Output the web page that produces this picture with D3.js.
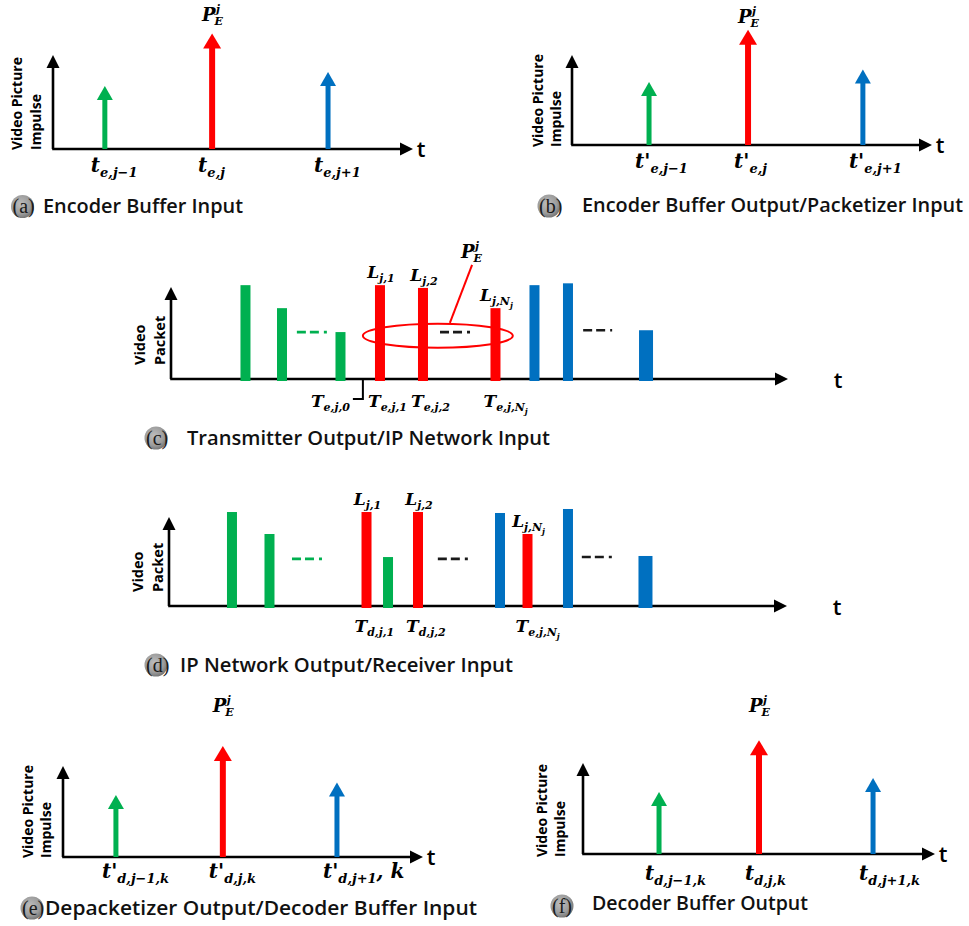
<!DOCTYPE html>
<html><head><meta charset="utf-8">
<script src="https://cdn.jsdelivr.net/npm/d3@7"></script>
<style>html,body{margin:0;padding:0;background:#fff;} svg{display:block}</style>
</head><body><div id="chart"></div>
<script>
// ================= DATA =================
const pictureKeys = ["j−1", "j", "j+1"];   // previous, current, next picture

// (a) Encoder Buffer Input  — impulse time (0..10 along t) and height (1 = axis top)
const aTimes   = [1.44, 4.42, 7.64];
const aHeights = [0.67, 1.23, 0.82];
const aTickLabels = [[["t",0],["e,j−1",1]], [["t",0],["e,j",1]], [["t",0],["e,j+1",1]]];

// (b) Encoder Buffer Output / Packetizer Input
const bTimes   = [2.14, 4.89, 8.08];
const bHeights = [0.70, 1.28, 0.84];
const bTickLabels = [[["t'",0],["e,j−1",1]], [["t'",0],["e,j",1]], [["t'",0],["e,j+1",1]]];

// (e) Depacketizer Output / Decoder Buffer Input
const eTimes   = [1.47, 4.44, 7.61];
const eHeights = [0.68, 1.22, 0.82];
const eTickLabels = [[["t'",0],["d,j−1,k",1]], [["t'",0],["d,j,k",1]], [["t'",0],["d,j+1",1],[", k",0]]];

// (f) Decoder Buffer Output
const fTimes   = [2.16, 5.00, 8.24];
const fHeights = [0.68, 1.25, 0.835];
const fTickLabels = [[["t",0],["d,j−1,k",1]], [["t",0],["d,j,k",1]], [["t",0],["d,j+1,k",1]]];

// (c) Transmitter Output / IP Network Input — packets (time 0..100, size 1 = axis top)
const cPacketTimes   = [12.07, 17.99, 27.47, 33.87, 40.84, 52.59, 58.91, 64.34, 76.99];
const cPacketSizes   = [1.02, 0.77, 0.51, 1.02, 0.99, 0.77, 1.02, 1.04, 0.53];
const cPacketPicture = ["j−1", "j−1", "j−1", "j", "j", "j", "j+1", "j+1", "j+1"];
const cGapTimes   = [[20.4, 25.8], [43.6, 48.5], [66.8, 71.5]];
const cGapLevels  = [0.51, 0.51, 0.53];
const cGapPicture = ["j−1", "j", "j+1"];
const cTopLabelIdx = [3, 4, 5];
const cTopLabels = [[["L",0],["j,1",1]], [["L",0],["j,2",1]], [["L",0],["j,N",1],["j",2]]];
const cBottomLabelIdx = [3, 4, 5];
const cBottomLabels = [[["T",0],["e,j,1",1]], [["T",0],["e,j,2",1]], [["T",0],["e,j,N",1],["j",2]]];
const cStartTime = 31.1;                       // T_{e,j,0}
const cStartLabel = [["T",0],["e,j,0",1]];
const cGroupSpan = [31.1, 55.4];               // ellipse around picture j packets
const cGroupLevels = [0.34, 0.60];
const cCallout = [[45.2, 0.61], [48.8, 1.24]];

// (d) IP Network Output / Receiver Input
const dPacketTimes   = [10.19, 16.26, 31.96, 35.44, 40.29, 53.56, 58.01, 64.56, 77.10];
const dPacketSizes   = [1.056, 0.809, 1.056, 0.55, 1.056, 1.045, 0.809, 1.09, 0.562];
const dPacketPicture = ["j−1", "j−1", "j", "j−1", "j", "j+1", "j", "j+1", "j+1"];
const dGapTimes   = [[19.9, 25.0], [43.5, 48.7], [66.8, 71.8]];
const dGapLevels  = [0.53, 0.53, 0.55];
const dGapPicture = ["j−1", "j", "j+1"];
const dTopLabelIdx = [2, 4, 6];
const dTopLabels = [[["L",0],["j,1",1]], [["L",0],["j,2",1]], [["L",0],["j,N",1],["j",2]]];
const dBottomLabelIdx = [2, 4, 6];
const dBottomLabels = [[["T",0],["d,j,1",1]], [["T",0],["d,j,2",1]], [["T",0],["e,j,N",1],["j",2]]];

const captionLetters = ["(a)", "(b)", "(c)", "(d)", "(e)", "(f)"];
const captionTexts = [
  "Encoder Buffer Input",
  "Encoder Buffer Output/Packetizer Input",
  "Transmitter Output/IP Network Input",
  "IP Network Output/Receiver Input",
  "Depacketizer Output/Decoder Buffer Input",
  "Decoder Buffer Output"
];
const impulseAxisTitle = ["Video Picture", "Impulse"];
const packetAxisTitle = ["Video", "Packet"];
const timeAxisTitle = "t";

// ================= RENDER =================
const W = 969, H = 926;
const svg = d3.select("#chart").append("svg")
  .attr("width", W).attr("height", H).attr("viewBox", `0 0 ${W} ${H}`);
const COLORS = {"j−1": "#00B050", "j": "#FF0000", "j+1": "#0070C0"};
const MATH_FONT = "'DejaVu Serif', serif";
const SANS = "'Open Sans', sans-serif";

const defs = svg.append("defs");
const grad = defs.append("radialGradient").attr("id", "capGrad").attr("cx", "42%").attr("cy", "40%").attr("r", "60%");
grad.append("stop").attr("offset", "0%").attr("stop-color", "#bdbdbd");
grad.append("stop").attr("offset", "70%").attr("stop-color", "#9c9c9c");
grad.append("stop").attr("offset", "100%").attr("stop-color", "#787878");

function mathText(g, x, y, parts, sizes, anchor) {
  const offs = [0, sizes[3], sizes[4]];
  const t = g.append("text").attr("x", x).attr("y", y)
    .attr("text-anchor", anchor || "start")
    .attr("font-family", MATH_FONT).attr("font-weight", "bold")
    .attr("font-style", "italic").attr("fill", "#000");
  let cur = 0;
  parts.forEach(([s, lvl]) => {
    t.append("tspan").attr("dy", offs[lvl] - cur).attr("font-size", sizes[lvl]).text(s);
    cur = offs[lvl];
  });
  return t;
}

function pLabel(g, x, y) {
  const base = g.append("g").attr("font-family", MATH_FONT).attr("font-weight", "bold")
    .attr("font-style", "italic").attr("fill", "#000");
  base.append("text").attr("x", x).attr("y", y).attr("font-size", 18).text("P");
  base.append("text").attr("x", x + 14).attr("y", y - 8).attr("font-size", 11).text("j");
  base.append("text").attr("x", x + 12.5).attr("y", y + 4).attr("font-size", 11).text("E");
}

function drawAxes(g, x, y) {
  const [x0, x1] = x.range(); const [y0, y1] = y.range();
  const xa = x.copy().range([x0 - 1.3, x1 - 9]);
  const ya = y.copy().range([y0, y1 + 9]);
  g.append("g").attr("transform", `translate(0,${y0 - 0.5})`)
    .call(d3.axisBottom(xa).tickValues([]).tickSizeOuter(0))
    .call(s => s.select(".domain").attr("stroke", "#000").attr("stroke-width", 2.6));
  g.append("g").attr("transform", `translate(${x0 - 0.5},-0.5)`)
    .call(d3.axisLeft(ya).tickValues([]).tickSizeOuter(0))
    .call(s => s.select(".domain").attr("stroke", "#000").attr("stroke-width", 2.6));
  g.append("path").attr("d", `M${x1},${y0}L${x1 - 13},${y0 - 6.5}L${x1 - 13},${y0 + 6.5}Z`).attr("fill", "#000");
  g.append("path").attr("d", `M${x0},${y1}L${x0 - 6.5},${y1 + 13}L${x0 + 6.5},${y1 + 13}Z`).attr("fill", "#000");
}

function yTitle(g, lines, xs, yStart, size) {
  lines.forEach((s, i) => g.append("text")
    .attr("transform", `translate(${xs[i]},${yStart}) rotate(-90)`)
    .attr("font-family", SANS).attr("font-weight", 700).attr("font-size", size)
    .attr("fill", "#000").text(s));
}

function tTitle(g, x, y) {
  g.append("text").attr("x", x).attr("y", y).attr("text-anchor", "middle")
    .attr("font-family", SANS).attr("font-weight", 600).attr("font-size", 22)
    .attr("fill", "#000").text(timeAxisTitle);
}

function caption(i, c) {
  const g = svg.append("g");
  g.append("circle").attr("cx", c.cx).attr("cy", c.cy).attr("r", 11.5).attr("fill", "url(#capGrad)");
  g.append("text").attr("x", c.cx - 10).attr("y", c.cy + 6.5)
    .attr("font-family", "'Liberation Serif', serif").attr("font-size", 20).attr("fill", "#1a1a1a")
    .text(captionLetters[i]);
  g.append("text").attr("x", c.tx).attr("y", c.ty)
    .attr("font-family", SANS).attr("font-weight", 600).attr("font-size", 20).attr("fill", "#111")
    .attr("textLength", c.len).attr("lengthAdjust", "spacingAndGlyphs")
    .text(captionTexts[i]);
}

function impulsePanel(cfg) {
  const g = svg.append("g");
  const x = d3.scaleLinear().domain([0, 10]).range([cfg.x0, cfg.x1]);
  const y = d3.scaleLinear().domain([0, 1]).range([cfg.y0, cfg.y1]);
  drawAxes(g, x, y);
  const data = cfg.times.map((t, i) => ({t, h: cfg.heights[i], key: pictureKeys[i], label: cfg.labels[i]}));
  g.selectAll("line.shaft").data(data).join("line").attr("class", "shaft")
    .attr("x1", d => x(d.t)).attr("x2", d => x(d.t))
    .attr("y1", y(0)).attr("y2", d => y(d.h) + 12)
    .attr("stroke", d => COLORS[d.key]).attr("stroke-width", d => d.key === "j" ? 6 : 5);
  g.selectAll("path.head").data(data).join("path").attr("class", "head")
    .attr("d", d => {
      const cx = x(d.t), ty = y(d.h), hw = d.key === "j" ? 9 : 8, hl = d.key === "j" ? 15 : 14;
      return `M${cx},${ty}L${cx + hw},${ty + hl}L${cx - hw},${ty + hl}Z`;
    })
    .attr("fill", d => COLORS[d.key]);
  data.forEach(d => mathText(g, x(d.t) - 14, cfg.y0 + cfg.labelDy, d.label, [20, 13, 10, 5, 8]));
  const red = data.find(d => d.key === "j");
  pLabel(g, x(red.t) - 10, cfg.pY);
  yTitle(g, impulseAxisTitle, cfg.titleX, cfg.titleY, 14);
  tTitle(g, cfg.x1 + 8, cfg.y0 + 8);
}

function packetPanel(cfg) {
  const g = svg.append("g");
  const x = d3.scaleLinear().domain([0, 100]).range([cfg.x0, cfg.x1]);
  const y = d3.scaleLinear().domain([0, 1]).range([cfg.y0, cfg.y1]);
  drawAxes(g, x, y);
  const packets = cfg.times.map((t, i) => ({t, h: cfg.sizes[i], key: cfg.picture[i], i}));
  const last = packets.length - 1;

  if (cfg.group) {
    const [s0, s1] = cfg.group, [l0, l1] = cfg.groupLevels;
    g.append("ellipse")
      .attr("cx", (x(s0) + x(s1)) / 2).attr("cy", (y(l0) + y(l1)) / 2)
      .attr("rx", (x(s1) - x(s0)) / 2).attr("ry", (y(l0) - y(l1)) / 2)
      .attr("fill", "none").attr("stroke", "#FF0000").attr("stroke-width", 2);
    g.append("line")
      .attr("x1", x(cfg.callout[0][0])).attr("y1", y(cfg.callout[0][1]))
      .attr("x2", x(cfg.callout[1][0])).attr("y2", y(cfg.callout[1][1]))
      .attr("stroke", "#FF0000").attr("stroke-width", 2);
    pLabel(g, x(cfg.callout[1][0]) - 11, y(cfg.callout[1][1]) - 7);
  }

  const gaps = cfg.gaps.map((span, i) => ({span, h: cfg.gapLevels[i], key: cfg.gapPicture[i]}));
  g.selectAll("line.gap").data(gaps).join("line").attr("class", "gap")
    .attr("x1", d => x(d.span[0])).attr("x2", d => x(d.span[1]))
    .attr("y1", d => y(d.h)).attr("y2", d => y(d.h))
    .attr("stroke", d => d.key === "j−1" ? COLORS[d.key] : "#1a1a1a")
    .attr("stroke-width", 2.6).attr("stroke-dasharray", "9,4,9,5,3,60");

  g.selectAll("rect.pkt").data(packets).join("rect").attr("class", "pkt")
    .attr("x", d => x(d.t) - (d.i === last ? 7 : 5))
    .attr("width", d => d.i === last ? 14 : 10)
    .attr("y", d => y(d.h))
    .attr("height", d => y(0) - y(d.h) + 2)
    .attr("fill", d => COLORS[d.key]);

  cfg.topIdx.forEach((pi, k) => {
    const p = packets[pi];
    mathText(g, x(p.t) + 1, y(p.h) - 7, cfg.topLabels[k], [17, 11, 8, 4, 7], "middle");
  });
  cfg.bottomIdx.forEach((pi, k) => {
    const p = packets[pi];
    mathText(g, x(p.t) - 12, cfg.y0 + cfg.labelDy, cfg.bottomLabels[k], [17, 11, 8, 4, 7]);
  });
  if (cfg.startTime != null) {
    const xs = x(cfg.startTime);
    g.append("path").attr("d", `M${xs},${cfg.y0}V${cfg.y0 + 20}H${xs - 10}`)
      .attr("fill", "none").attr("stroke", "#000").attr("stroke-width", 2);
    mathText(g, xs - 13, cfg.y0 + cfg.labelDy, cfg.startLabel, [17, 11, 8, 4, 7], "end");
  }
  yTitle(g, packetAxisTitle, cfg.titleX, cfg.titleY, 14.5);
  tTitle(g, cfg.x1 + 50, cfg.y0 + 9);
}

impulsePanel({x0: 53, x1: 413, y0: 149, y1: 55, times: aTimes, heights: aHeights, labels: aTickLabels,
  labelDy: 23, pY: 21, titleX: [22, 41], titleY: 150});
impulsePanel({x0: 572, x1: 932, y0: 145, y1: 55, times: bTimes, heights: bHeights, labels: bTickLabels,
  labelDy: 23, pY: 23, titleX: [543, 561], titleY: 147});
impulsePanel({x0: 63, x1: 423, y0: 857, y1: 766, times: eTimes, heights: eHeights, labels: eTickLabels,
  labelDy: 21, pY: 712, titleX: [33, 51], titleY: 858});
impulsePanel({x0: 583, x1: 935, y0: 854, y1: 763, times: fTimes, heights: fHeights, labels: fTickLabels,
  labelDy: 26, pY: 712, titleX: [547, 565], titleY: 857});

packetPanel({x0: 171, x1: 788, y0: 379, y1: 287, times: cPacketTimes, sizes: cPacketSizes, picture: cPacketPicture,
  gaps: cGapTimes, gapLevels: cGapLevels, gapPicture: cGapPicture,
  topIdx: cTopLabelIdx, topLabels: cTopLabels, bottomIdx: cBottomLabelIdx, bottomLabels: cBottomLabels,
  startTime: cStartTime, startLabel: cStartLabel, group: cGroupSpan, groupLevels: cGroupLevels, callout: cCallout,
  labelDy: 28, titleX: [145, 165], titleY: 365});
packetPanel({x0: 169, x1: 787, y0: 606, y1: 517, times: dPacketTimes, sizes: dPacketSizes, picture: dPacketPicture,
  gaps: dGapTimes, gapLevels: dGapLevels, gapPicture: dGapPicture,
  topIdx: dTopLabelIdx, topLabels: dTopLabels, bottomIdx: dBottomLabelIdx, bottomLabels: dBottomLabels,
  startTime: null, labelDy: 26, titleX: [143, 163], titleY: 592});

const capLayout = [
  {cx: 22.5, cy: 206.5, tx: 43, ty: 213, len: 200},
  {cx: 549, cy: 206, tx: 582, ty: 212, len: 381},
  {cx: 156, cy: 438, tx: 187, ty: 445, len: 363},
  {cx: 156, cy: 665, tx: 180, ty: 672, len: 333},
  {cx: 32, cy: 908, tx: 45, ty: 915, len: 432},
  {cx: 562, cy: 906, tx: 592, ty: 910, len: 216}
];
capLayout.forEach((c, i) => caption(i, c));
</script>
</body></html>
